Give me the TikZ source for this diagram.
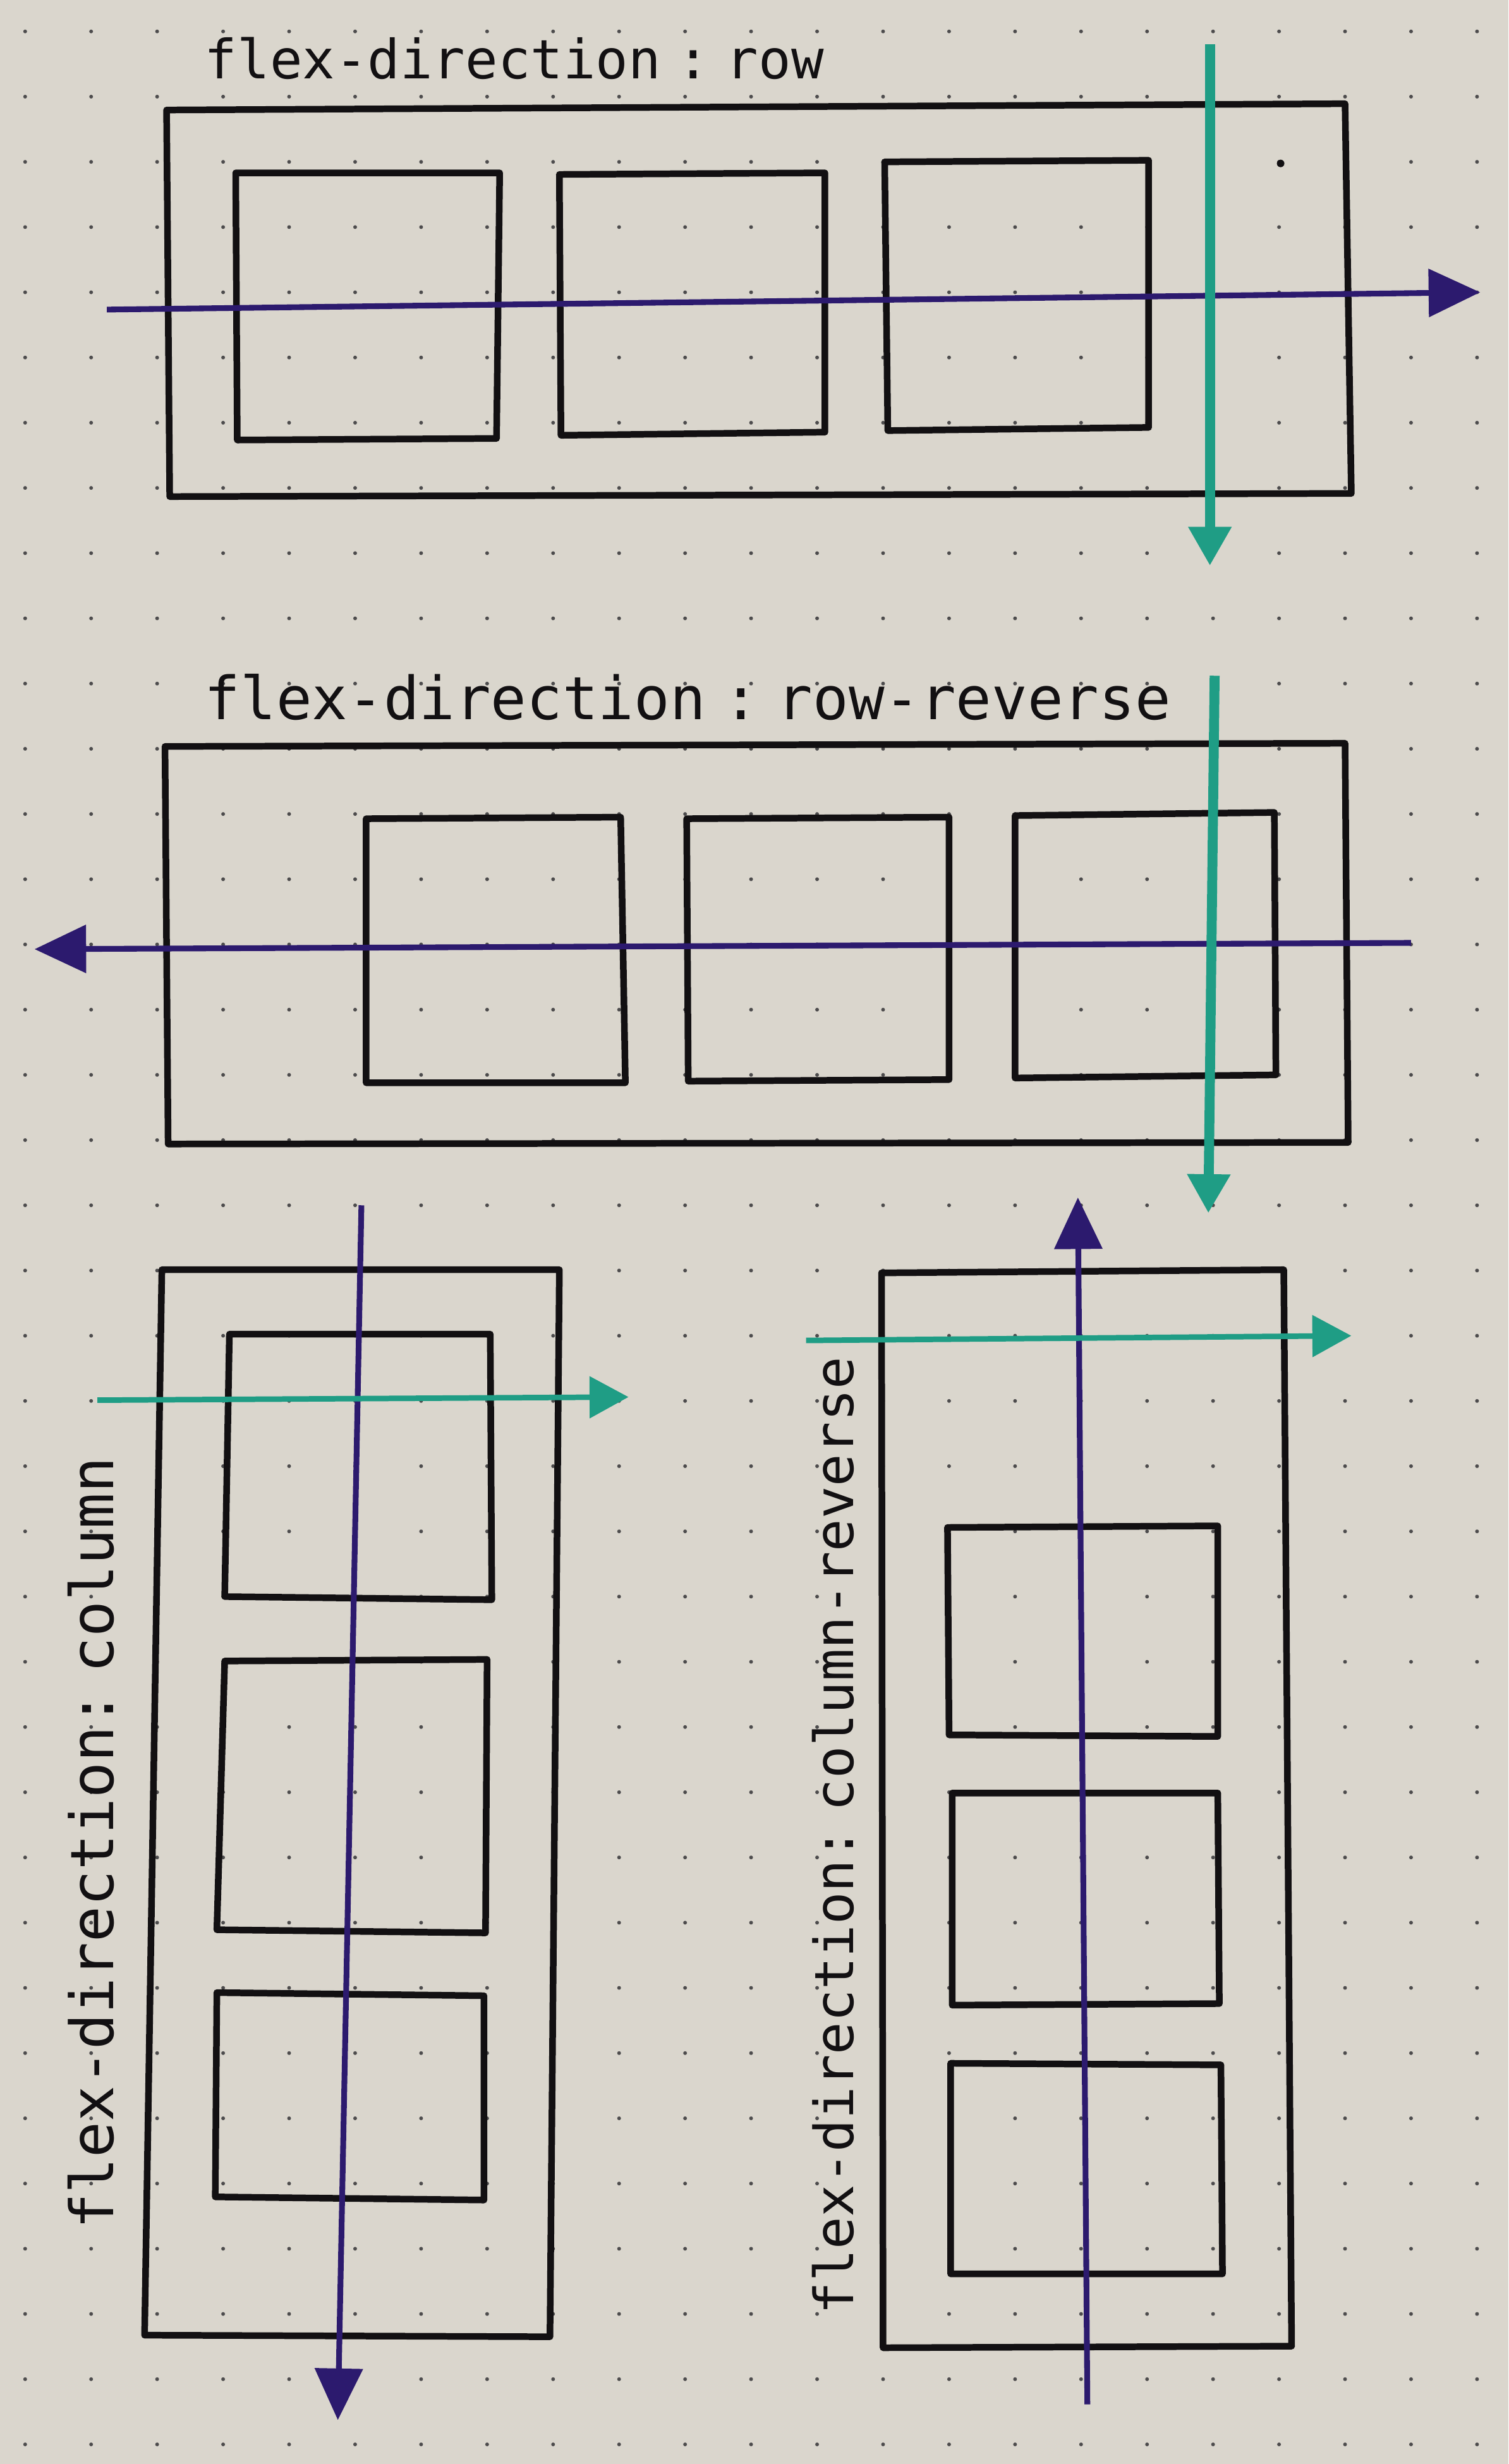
\documentclass[tikz,border=0pt]{standalone}
\usepackage{fontspec}
\newfontfamily\handfont{DejaVu Sans Mono}
\usetikzlibrary{arrows.meta}

\definecolor{paper}{HTML}{DAD6CD}
\definecolor{ink}{HTML}{121012}
\definecolor{mainaxis}{HTML}{2C1A6E}
\definecolor{crossaxis}{HTML}{1F9D85}

\newcommand\gap{\hspace{0.3em}}

\tikzset{
  box/.style={draw=ink,line width=3pt,line join=round,line cap=round},
  mainarrow/.style={draw=mainaxis,line width=2.6pt,-{Triangle[length=0.82cm,width=0.75cm]}},
  crossarrow/.style={draw=crossaxis,line width=#1,-{Triangle[length=0.62cm,width=0.65cm]}},
  crossarrow/.default=4.5pt,
  handlabel/.style={text=ink,inner sep=0pt,anchor=base west,font=\handfont\fontsize{#1}{#1}\selectfont},
}

\begin{document}
\begin{tikzpicture}[x=0.025cm,y=-0.025cm]
			% paper
			\fill[paper] (0,0) rectangle (960,1568);
			\useasboundingbox (0,0) rectangle (960,1568);
			\foreach \x in {16,58,...,960}
				\foreach \y in {20,61.5,...,1568}
					\fill[ink!75] (\x,\y) circle (0.03cm);
			\fill[ink] (815,104) circle (0.06cm);

			% flex-direction: row
			\node[handlabel=24.5] (rowlabel) at (130,50) {flex-direction\gap:\gap row};
			\draw[box] (106,70) -- (856,66) -- (860,314) -- (108,316) -- cycle;
			\draw[box] (150,110) -- (318,110) -- (316,279) -- (151,280) -- cycle;
			\draw[box] (356,111) -- (525,110) -- (525,275) -- (357,277) -- cycle;
			\draw[box] (563,103) -- (731,102) -- (731,272) -- (565,274) -- cycle;
			\coordinate (rowmainS) at (68,197);
			\coordinate (rowmainE) at (942,186);
			\coordinate (rowcrossS) at (770,28);
			\coordinate (rowcrossE) at (770,360);
			\draw[mainarrow] (rowmainS) -- (rowmainE);
			\draw[crossarrow] (rowcrossS) -- (rowcrossE);

			% flex-direction: row-reverse
			\node[handlabel=26.9] (rowrevlabel) at (130,458) {flex-direction\gap:\gap row-reverse};
			\draw[box] (105,475) -- (856,473) -- (858,727) -- (107,728) -- cycle;
			\draw[box] (233,521) -- (395,520) -- (398,689) -- (233,689) -- cycle;
			\draw[box] (437,521) -- (604,520) -- (604,687) -- (438,688) -- cycle;
			\draw[box] (646,519) -- (811,517) -- (812,684) -- (646,686) -- cycle;
			\coordinate (rowrevmainS) at (898,600);
			\coordinate (rowrevmainE) at (22,604);
			\coordinate (rowrevcrossS) at (773,430);
			\coordinate (rowrevcrossE) at (769,772);
			\draw[mainarrow] (rowrevmainS) -- (rowrevmainE);
			\draw[crossarrow] (rowrevcrossS) -- (rowrevcrossE);

			% flex-direction: column
			\node[handlabel=27,rotate=90] (collabel) at (72,1419) {flex-direction:\gap column};
			\draw[box] (103,808) -- (356,808) -- (350,1487) -- (92,1486) -- cycle;
			\draw[box] (146,849) -- (312,849) -- (313,1018) -- (143,1016) -- cycle;
			\draw[box] (143,1057) -- (310,1056) -- (309,1230) -- (138,1228) -- cycle;
			\draw[box] (138,1268) -- (308,1270) -- (308,1400) -- (137,1398) -- cycle;
			\coordinate (colmainS) at (230,767);
			\coordinate (colmainE) at (215,1540);
			\coordinate (colcrossS) at (62,891);
			\coordinate (colcrossE) at (400,889);
			\draw[mainarrow] (colmainS) -- (colmainE);
			\draw[crossarrow=2.5pt] (colcrossS) -- (colcrossE);

			% flex-direction: column-reverse
			\node[handlabel=24.4,rotate=90] (colrevlabel) at (543,1473) {flex-direction:\gap column-reverse};
			\draw[box] (561,810) -- (817,808) -- (822,1493) -- (562,1494) -- cycle;
			\draw[box] (603,972) -- (775,971) -- (775,1105) -- (604,1104) -- cycle;
			\draw[box] (606,1141) -- (775,1141) -- (776,1275) -- (606,1276) -- cycle;
			\draw[box] (605,1313) -- (777,1314) -- (778,1447) -- (605,1447) -- cycle;
			\coordinate (colrevmainS) at (692,1530);
			\coordinate (colrevmainE) at (686,762);
			\coordinate (colrevcrossS) at (513,853);
			\coordinate (colrevcrossE) at (860,850);
			\draw[mainarrow] (colrevmainS) -- (colrevmainE);
			\draw[crossarrow=2.5pt] (colrevcrossS) -- (colrevcrossE);
		\end{tikzpicture}
\end{document}
